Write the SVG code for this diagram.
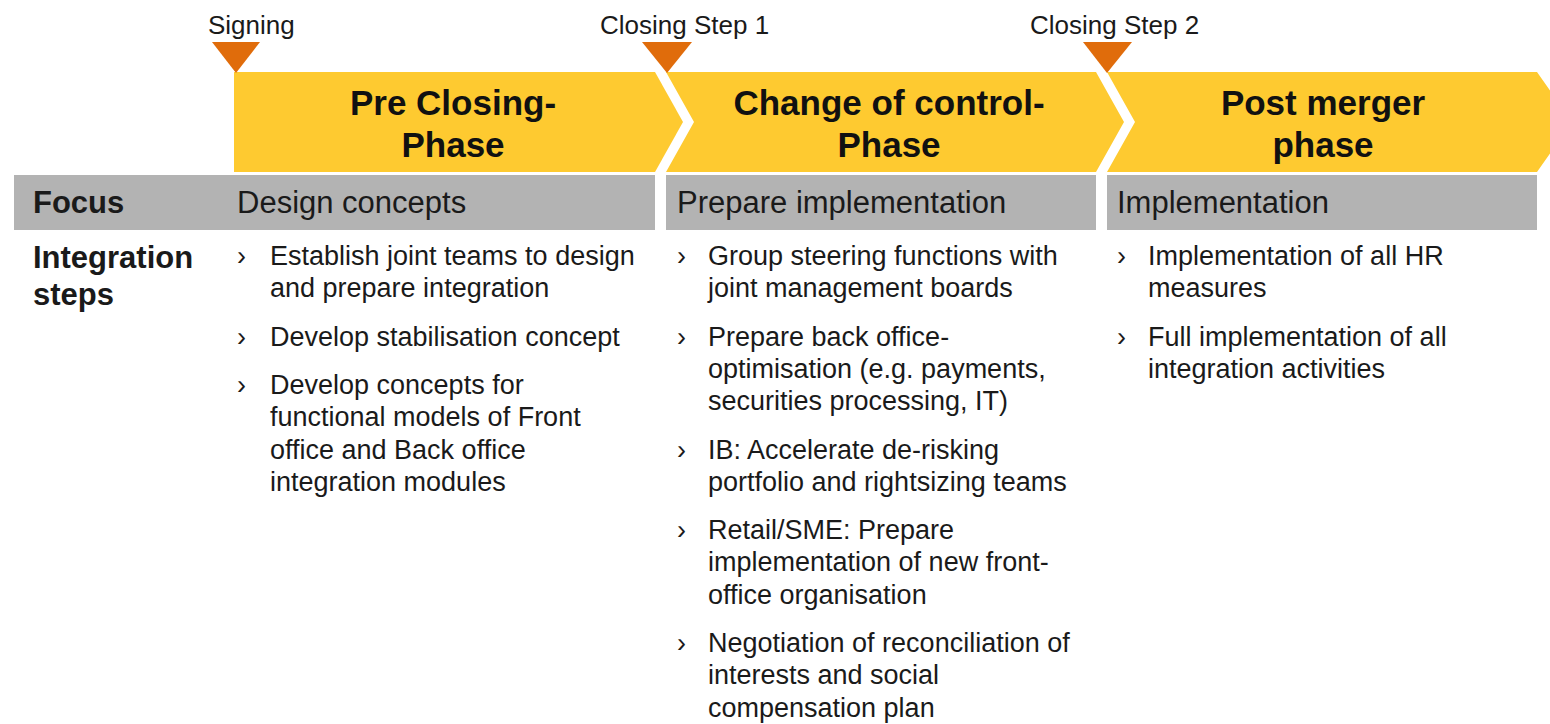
<svg xmlns="http://www.w3.org/2000/svg" width="1550" height="724" viewBox="0 0 1550 724">
  <style>
    .chev { fill: #FECA30; }
    .mark { fill: #E06C0B; }
    .bar { fill: #B3B3B3; }
    text { font-family: "Liberation Sans", Arial, sans-serif; fill: #1a1a1a; }
    .mlabel { font-size: 26px; }
    .head { font-size: 35px; font-weight: bold; text-anchor: middle; fill: #111; }
    .focus { font-size: 31px; }
    .lbl { font-size: 31px; font-weight: bold; }
    .body { font-size: 27px; }
  </style>

  <rect width="1550" height="724" fill="#ffffff"/>

  <!-- phase chevrons -->
  <g id="phase-pre-closing">
    <path class="chev" d="M234,72 H655 L683,122 L655,172 H234 Z"/>
    <text class="head" x="453" y="115">Pre Closing-</text>
    <text class="head" x="453" y="157">Phase</text>
  </g>
  <g id="phase-change-of-control">
    <path class="chev" d="M666,72 H1096 L1124,122 L1096,172 H666 L694,122 Z"/>
    <text class="head" x="889" y="115">Change of control-</text>
    <text class="head" x="889" y="157">Phase</text>
  </g>
  <g id="phase-post-merger">
    <path class="chev" d="M1107,72 H1537 L1572,122 L1537,172 H1107 L1135,122 Z"/>
    <text class="head" x="1323" y="115">Post merger</text>
    <text class="head" x="1323" y="157">phase</text>
  </g>

  <!-- milestones -->
  <g id="milestone-signing">
    <path class="mark" d="M212,42 H260 L236,73 Z"/>
    <text class="mlabel" x="208" y="34">Signing</text>
  </g>
  <g id="milestone-closing-1">
    <path class="mark" d="M642,42 H692 L667,73 Z"/>
    <text class="mlabel" x="600" y="34">Closing Step 1</text>
  </g>
  <g id="milestone-closing-2">
    <path class="mark" d="M1083,42 H1132 L1107,73 Z"/>
    <text class="mlabel" x="1030" y="34">Closing Step 2</text>
  </g>

  <!-- focus row -->
  <g id="focus-row">
    <rect class="bar" x="14" y="175" width="641" height="55"/>
    <rect class="bar" x="666" y="175" width="430" height="55"/>
    <rect class="bar" x="1107" y="175" width="430" height="55"/>
    <text class="lbl" x="33" y="213">Focus</text>
    <text class="focus" x="237" y="213">Design concepts</text>
    <text class="focus" x="677" y="213">Prepare implementation</text>
    <text class="focus" x="1117" y="213">Implementation</text>
  </g>

  <!-- integration steps -->
  <g id="steps-label">
    <text class="lbl" x="33" y="268">Integration</text>
    <text class="lbl" x="33" y="305">steps</text>
  </g>

  <g id="steps-pre-closing">
    <text class="body" x="237" y="265">›</text>
    <text class="body" x="270" y="265">Establish joint teams to design</text>
    <text class="body" x="270" y="297.3">and prepare integration</text>
    <text class="body" x="237" y="345.6">›</text>
    <text class="body" x="270" y="345.6">Develop stabilisation concept</text>
    <text class="body" x="237" y="393.9">›</text>
    <text class="body" x="270" y="393.9">Develop concepts for</text>
    <text class="body" x="270" y="426.2">functional models of Front</text>
    <text class="body" x="270" y="458.5">office and Back office</text>
    <text class="body" x="270" y="490.8">integration modules</text>
  </g>

  <g id="steps-change-of-control">
    <text class="body" x="677" y="265">›</text>
    <text class="body" x="708" y="265">Group steering functions with</text>
    <text class="body" x="708" y="297.3">joint management boards</text>
    <text class="body" x="677" y="345.6">›</text>
    <text class="body" x="708" y="345.6">Prepare back office-</text>
    <text class="body" x="708" y="377.9">optimisation (e.g. payments,</text>
    <text class="body" x="708" y="410.2">securities processing, IT)</text>
    <text class="body" x="677" y="458.5">›</text>
    <text class="body" x="708" y="458.5">IB: Accelerate de-risking</text>
    <text class="body" x="708" y="490.8">portfolio and rightsizing teams</text>
    <text class="body" x="677" y="539.1">›</text>
    <text class="body" x="708" y="539.1">Retail/SME: Prepare</text>
    <text class="body" x="708" y="571.4">implementation of new front-</text>
    <text class="body" x="708" y="603.7">office organisation</text>
    <text class="body" x="677" y="652">›</text>
    <text class="body" x="708" y="652">Negotiation of reconciliation of</text>
    <text class="body" x="708" y="684.3">interests and social</text>
    <text class="body" x="708" y="716.6">compensation plan</text>
  </g>

  <g id="steps-post-merger">
    <text class="body" x="1117" y="265">›</text>
    <text class="body" x="1148" y="265">Implementation of all HR</text>
    <text class="body" x="1148" y="297.3">measures</text>
    <text class="body" x="1117" y="345.6">›</text>
    <text class="body" x="1148" y="345.6">Full implementation of all</text>
    <text class="body" x="1148" y="377.9">integration activities</text>
  </g>
</svg>
